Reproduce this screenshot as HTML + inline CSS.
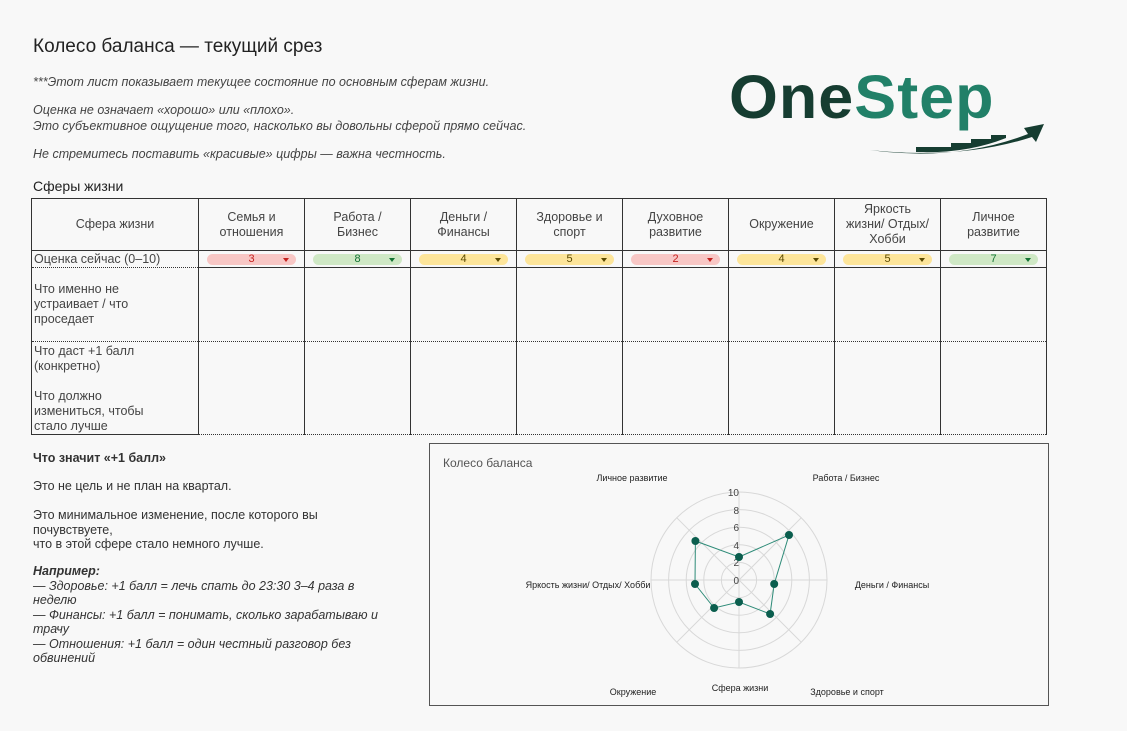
<!DOCTYPE html>
<html><head><meta charset="utf-8"><style>
body{margin:0;width:1127px;height:731px;background:#f8f8f8;font-family:"Liberation Sans","DejaVu Sans",sans-serif;color:#333;position:relative;overflow:hidden}
.a{position:absolute;white-space:nowrap}
.i{font-style:italic;font-size:12.5px;color:#444}
table{position:absolute;left:31px;top:198px;border-collapse:collapse;font-size:12.5px;color:#444}
td{border:1px solid #333;padding:0 2px;vertical-align:middle}
.h td{height:51px;text-align:center;line-height:15px}
.d td{border-top:1px dotted #333;border-bottom:1px dotted #333;border-left:1px dotted #333}
td.f{border-left:1px solid #333;border-right:1px solid #333;text-align:left;line-height:15px}
.p{height:11px;border-radius:6px;font-size:11px;line-height:11px;text-align:center;position:relative;margin:0 6px}
.p:after{content:"";position:absolute;right:7px;top:4px;border-left:3px solid transparent;border-right:3px solid transparent;border-top:4px solid currentColor}
.r{background:#f8c7c5;color:#c5221f}.g{background:#cfe8c5;color:#137333}.y{background:#fde59a;color:#5b4a00}
</style></head><body>
<div class="a" style="left:33px;top:36px;font-size:19px;color:#222">Колесо баланса — текущий срез</div>
<div class="a i" style="left:33px;top:75px">***Этот лист показывает текущее состояние по основным сферам жизни.</div>
<div class="a i" style="left:33px;top:103px">Оценка не означает «хорошо» или «плохо».</div>
<div class="a i" style="left:33px;top:119px">Это субъективное ощущение того, насколько вы довольны сферой прямо сейчас.</div>
<div class="a i" style="left:33px;top:147px">Не стремитесь поставить «красивые» цифры — важна честность.</div>
<div class="a" style="left:729px;top:59px;font-size:61px;font-weight:bold;letter-spacing:1px;line-height:76px;transform:scaleX(1.03);transform-origin:left"><span style="color:#163d31">One</span><span style="color:#218068">Step</span></div>
<svg class="a" style="left:866px;top:118px" width="185" height="44"><path d="M4 32 Q90 44 162 16 L158 10 L178 6 L170 24 L166 19 Q95 42 4 32Z" fill="#163d31"/><path d="M50 34 L50 29 L85 29 L85 25 L105 25 L105 21 L125 21 L125 17 L140 17 L140 20 Q100 36 50 34Z" fill="#163d31"/></svg>
<div class="a" style="left:33px;top:178px;font-size:14px;color:#222">Сферы жизни</div>
<table>
<tr class="h"><td style="width:162px">Сфера жизни</td><td style="width:101px">Семья и<br>отношения</td><td style="width:101px">Работа /<br>Бизнес</td><td style="width:101px">Деньги /<br>Финансы</td><td style="width:101px">Здоровье и<br>спорт</td><td style="width:101px">Духовное<br>развитие</td><td style="width:101px">Окружение</td><td style="width:101px">Яркость<br>жизни/ Отдых/<br>Хобби</td><td style="width:101px">Личное<br>развитие</td></tr>
<tr style="height:17px"><td class="f" style="border-bottom:1px dotted #333">Оценка сейчас (0–10)</td><td><div class="p r">3</div></td><td><div class="p g">8</div></td><td><div class="p y">4</div></td><td><div class="p y">5</div></td><td><div class="p r">2</div></td><td><div class="p y">4</div></td><td><div class="p y">5</div></td><td><div class="p g">7</div></td></tr>
<tr class="d" style="height:74px"><td class="f">Что именно не<br>устраивает / что<br>проседает</td><td></td><td></td><td></td><td></td><td></td><td></td><td></td><td style="border-right:1px solid #333"></td></tr>
<tr class="d" style="height:88px"><td class="f" style="border-bottom:1px solid #333;vertical-align:top;padding-top:2px">Что даст +1 балл<br>(конкретно)<br><br>Что должно<br>измениться, чтобы<br>стало лучше</td><td></td><td></td><td></td><td></td><td></td><td></td><td></td><td style="border-right:1px solid #333"></td></tr>
</table>
<div class="a" style="left:33px;top:451px;font-size:12.5px;font-weight:bold">Что значит «+1 балл»</div>
<div class="a" style="left:33px;top:479px;font-size:12.5px;line-height:14.5px">Это не цель и не план на квартал.<br><br>Это минимальное изменение, после которого вы<br>почувствуете,<br>что в этой сфере стало немного лучше.</div>
<div class="a" style="left:33px;top:564px;font-size:12.5px;line-height:14.5px;font-style:italic"><b>Например:</b><br>— Здоровье: +1 балл = лечь спать до 23:30 3–4 раза в<br>неделю<br>— Финансы: +1 балл = понимать, сколько зарабатываю и<br>трачу<br>— Отношения: +1 балл = один честный разговор без<br>обвинений</div>
<div class="a" style="left:429px;top:443px;width:618px;height:261px;border:1px solid #555;background:#f8f8f8"></div>
<svg class="a" style="left:0;top:0" width="1127" height="731" font-family="Liberation Sans,sans-serif" font-size="9" fill="#222">
<text x="443" y="467" font-size="12" fill="#555">Колесо баланса</text>
<g fill="none" stroke="#d8d8d8" stroke-width="1">
<circle cx="739" cy="580" r="17.6"/><circle cx="739" cy="580" r="35.2"/><circle cx="739" cy="580" r="52.8"/><circle cx="739" cy="580" r="70.4"/><circle cx="739" cy="580" r="88"/>
<line x1="739" y1="492" x2="739" y2="668"/><line x1="651" y1="580" x2="827" y2="580"/><line x1="676.8" y1="517.8" x2="801.2" y2="642.2"/><line x1="801.2" y1="517.8" x2="676.8" y2="642.2"/>
</g>
<g text-anchor="end" font-size="10" fill="#444"><text x="739" y="496">10</text><text x="739" y="514">8</text><text x="739" y="531">6</text><text x="739" y="549">4</text><text x="739" y="566">2</text><text x="739" y="584">0</text></g>
<polygon points="739,557 789,535 774.2,584 770.1,614 739,602 714.1,608 695,584 695.4,541" fill="none" stroke="#2e8b78" stroke-width="1"/>
<g fill="#0b5e4e"><circle cx="739" cy="557" r="4"/><circle cx="789" cy="535" r="4"/><circle cx="774.2" cy="584" r="4"/><circle cx="770.1" cy="614" r="4"/><circle cx="739" cy="602" r="4"/><circle cx="714.1" cy="608" r="4"/><circle cx="695" cy="584" r="4"/><circle cx="695.4" cy="541" r="4"/></g>
<g text-anchor="middle"><text x="632" y="481">Личное развитие</text><text x="846" y="481">Работа / Бизнес</text><text x="892" y="588">Деньги / Финансы</text><text x="847" y="695">Здоровье и спорт</text><text x="740" y="691">Сфера жизни</text><text x="633" y="695">Окружение</text><text x="588" y="588">Яркость жизни/ Отдых/ Хобби</text></g>
</svg>
</body></html>
